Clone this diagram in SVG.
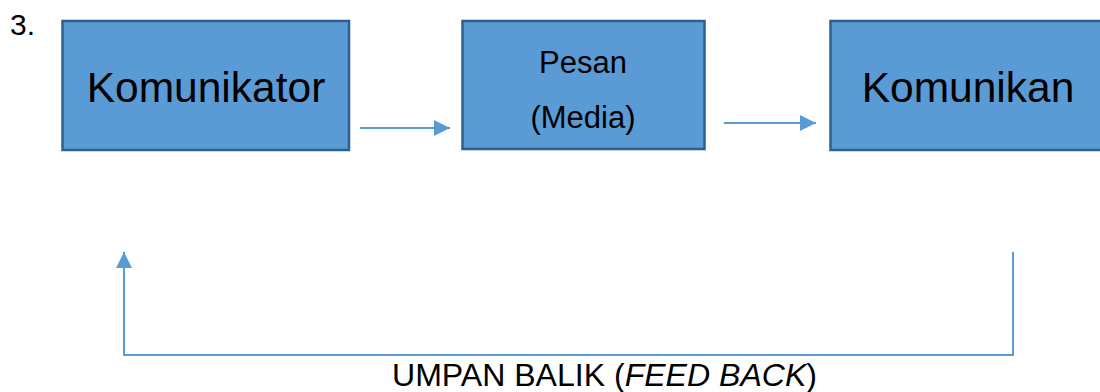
<svg xmlns="http://www.w3.org/2000/svg" width="1100" height="392" viewBox="0 0 1100 392">
<style>
.box{fill:#5b9bd5;stroke:#2f5f8f;stroke-width:2.5}
.t{font-family:"Liberation Sans",Arial,sans-serif;fill:#000}
.ln{stroke:#5b9bd5;stroke-width:2;fill:none}
</style>
<defs>
<marker id="ah" markerWidth="16" markerHeight="16" refX="16" refY="8" orient="auto" markerUnits="userSpaceOnUse">
<path d="M0,0 L16,8 L0,16 Z" fill="#5b9bd5"/>
</marker>
</defs>
<rect width="1100" height="392" fill="#fff"/>
<text class="t" x="10" y="35" font-size="30">3.</text>
<g id="komunikator">
<rect class="box" x="62.5" y="21" width="286.5" height="129"/>
<text class="t" x="206" y="102" font-size="42.5" text-anchor="middle">Komunikator</text>
</g>
<g id="pesan">
<rect class="box" x="462.5" y="21" width="242" height="128"/>
<text class="t" x="583" y="73" font-size="31" text-anchor="middle">Pesan</text>
<text class="t" x="583" y="128" font-size="31" text-anchor="middle">(Media)</text>
</g>
<g id="komunikan">
<rect class="box" x="830.5" y="21" width="290" height="129"/>
<text class="t" x="968" y="102" font-size="42.5" text-anchor="middle">Komunikan</text>
</g>
<g id="connectors">
<line class="ln" x1="360" y1="128" x2="450" y2="128" marker-end="url(#ah)"/>
<line class="ln" x1="724" y1="123" x2="816" y2="123" marker-end="url(#ah)"/>
<polyline class="ln" points="1013,252 1013,355 124,355 124,252" marker-end="url(#ah)"/>
</g>
<text class="t" x="392" y="386" font-size="31" textLength="425" lengthAdjust="spacingAndGlyphs">UMPAN BALIK (<tspan font-style="italic">FEED BACK</tspan>)</text>
</svg>
